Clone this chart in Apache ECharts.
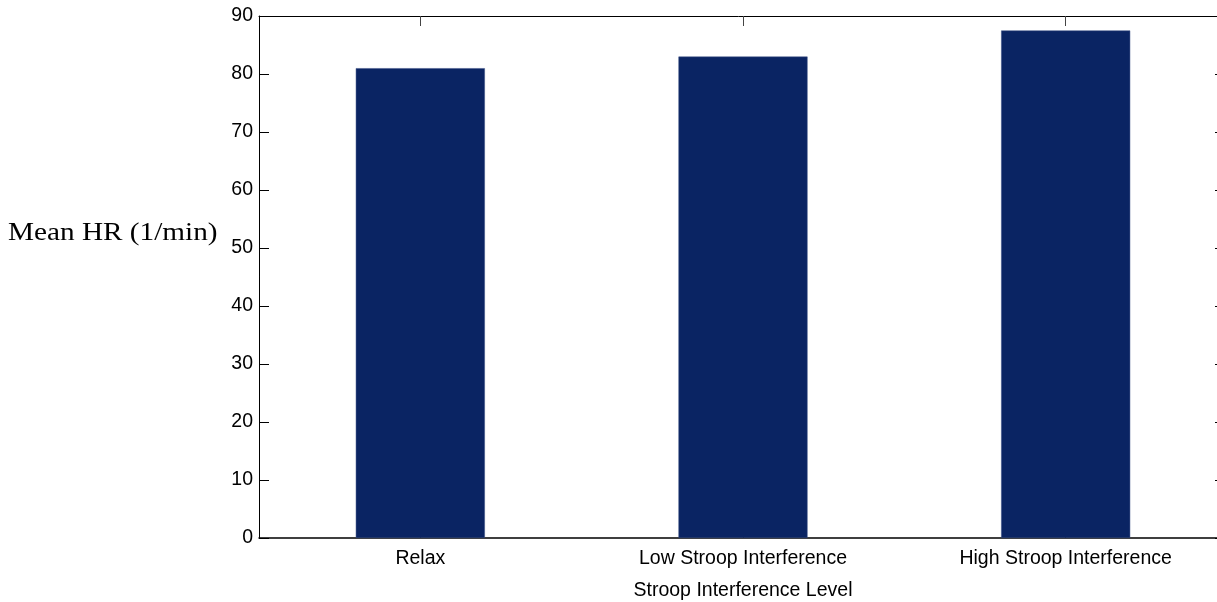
<!DOCTYPE html>
<html>
<head>
<meta charset="utf-8">
<script src="https://cdn.jsdelivr.net/npm/echarts@6/dist/echarts.min.js"></script>
<style>html,body{margin:0;padding:0;background:#fff;}#c{width:1217px;height:602px;}</style>
</head>
<body>
<div id="c"></div>
<script>
const categories = ['Relax', 'Low Stroop Interference', 'High Stroop Interference'];
const meanHR = [81.0, 83.0, 87.5];
const yTicks = { min: 0, max: 90, interval: 10 };
const yLabel = 'Mean HR (1/min)';
const xLabel = 'Stroop Interference Level';

const chart = echarts.init(document.getElementById('c'), null, { renderer: 'canvas' });
const sans = 'Liberation Sans, Arial, sans-serif';
const lineStyle = { color: '#000', width: 1 };
chart.setOption({
  animation: false,
  backgroundColor: '#fff',
  grid: { left: 259, top: 16, width: 968, height: 522, containLabel: false, outerBoundsMode: 'none' },
  xAxis: [
    {
      type: 'category', position: 'bottom', data: categories,
      axisLine: { onZero: false, lineStyle: { color: '#000', width: 1.5 } },
      axisTick: { show: true, inside: true, length: 10, alignWithLabel: true, lineStyle: lineStyle },
      axisLabel: { color: '#000', fontSize: 19.5, fontFamily: sans, margin: 11 },
      name: xLabel, nameLocation: 'middle', nameGap: 43,
      nameTextStyle: { color: '#000', fontSize: 19.5, fontFamily: sans }
    },
    {
      type: 'category', position: 'top', data: categories,
      axisLine: { onZero: false, lineStyle: lineStyle },
      axisTick: { show: true, inside: true, length: 10, alignWithLabel: true, lineStyle: { color: '#444', width: 1 } },
      axisLabel: { show: false }
    }
  ],
  yAxis: [
    {
      type: 'value', position: 'left', min: yTicks.min, max: yTicks.max, interval: yTicks.interval,
      axisLine: { show: true, onZero: false, lineStyle: lineStyle },
      axisTick: { show: true, inside: true, length: 10, lineStyle: lineStyle },
      axisLabel: { color: '#000', fontSize: 19.5, fontFamily: sans, margin: 6 },
      splitLine: { show: false }
    },
    {
      type: 'value', position: 'right', min: yTicks.min, max: yTicks.max, interval: yTicks.interval,
      axisLine: { show: true, onZero: false, lineStyle: lineStyle },
      axisTick: { show: true, inside: true, length: 12, lineStyle: lineStyle },
      axisLabel: { show: false },
      splitLine: { show: false }
    }
  ],
  graphic: [
    {
      type: 'text', x: 8, y: 221, scaleX: 1.17, scaleY: 1,
      style: { text: yLabel, fill: '#000', font: '25px "Liberation Serif", "Times New Roman", serif' }
    }
  ],
  series: [
    {
      type: 'bar', data: meanHR, barWidth: '40%',
      itemStyle: { color: '#0a2463', borderColor: '#3a4f85', borderWidth: 0.5 }
    }
  ]
});
</script>
</body>
</html>
